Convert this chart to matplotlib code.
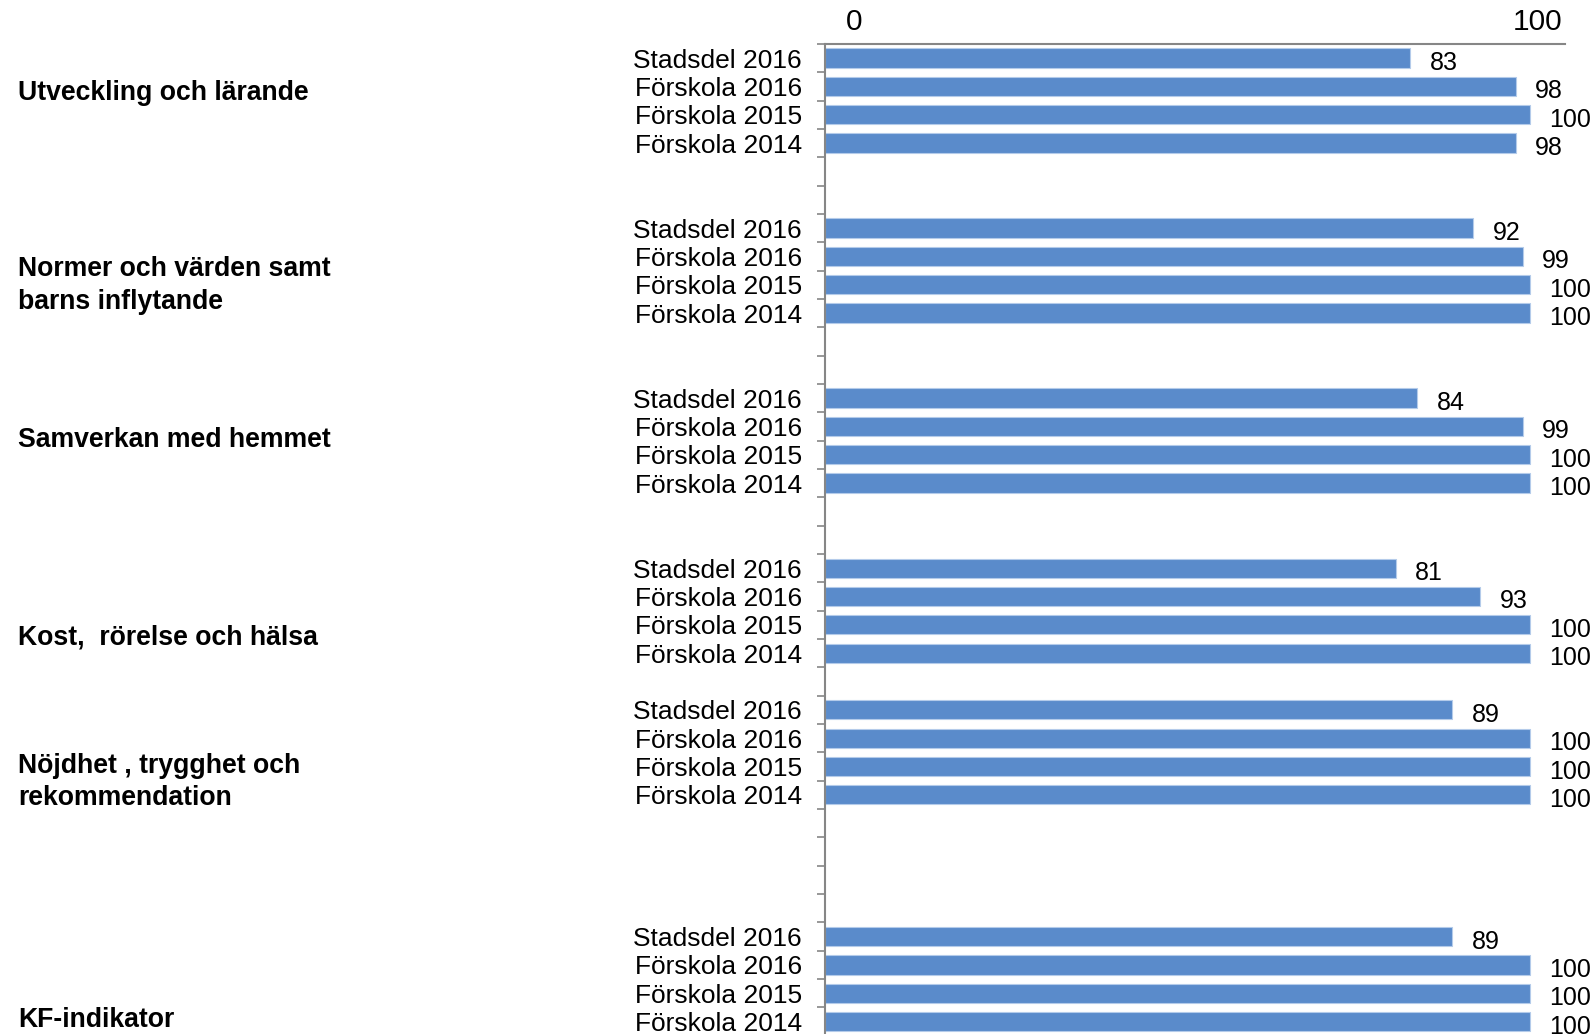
import numpy as np
import matplotlib
matplotlib.use("Agg")
import matplotlib.pyplot as plt
import matplotlib.transforms as mtransforms
from matplotlib.ticker import FixedLocator

plt.rcParams["font.family"] = ["Liberation Sans", "DejaVu Sans"]

# survey areas (left-hand group titles)
AREAS = [
    "Utveckling och lärande",
    "Normer och värden samt\nbarns inflytande",
    "Samverkan med hemmet",
    "Kost,  rörelse och hälsa",
    "Nöjdhet , trygghet och\nrekommendation",
    "KF-indikator",
]
SERIES = ["Stadsdel 2016", "Förskola 2016", "Förskola 2015", "Förskola 2014"]

stadsdel_2016 = [83, 92, 84, 81, 89, 89]
forskola_2016 = [98, 99, 99, 93, 100, 100]
forskola_2015 = [100, 100, 100, 100, 100, 100]
forskola_2014 = [98, 100, 100, 100, 100, 100]

# first category slot of every group (empty slots sit between groups)
GROUP_START = [0, 6, 12, 18, 23, 31]
N_SLOTS = 35
# vertical position of each group title, in slot units
TITLE_SLOT = [1.23, 8.03, 13.48, 20.43, 25.55, 33.94]

BAR_COLOR = "#5a8bcb"
EDGE_COLOR = "#b4cbea"
AXIS_GREY = "#868686"

values = [stadsdel_2016, forskola_2016, forskola_2015, forskola_2014]

fig = plt.figure(figsize=(15.96, 10.34), dpi=100)
ax = fig.add_axes([825 / 1596, -0.0017, 740 / 1596, 0.9593])

ypos, vals, labels = [], [], []
for g, start in enumerate(GROUP_START):
    for s, series in enumerate(values):
        ypos.append(start + s)
        vals.append(series[g])
        labels.append(SERIES[s])

ax.barh(ypos, vals, height=0.68, color=BAR_COLOR, edgecolor=EDGE_COLOR,
        linewidth=0.8, zorder=2)

for y, v in zip(ypos, vals):
    ax.annotate(f"{v}", xy=(v, y), xytext=(14.0, -3.6), textcoords="offset points",
                ha="left", va="center", fontsize=18, color="black")

ax.set_xlim(0, 105)
ax.set_ylim(N_SLOTS - 0.5, -0.5)

# category labels on the bar slots, tick marks on the slot boundaries
ax.set_yticks(ypos)
ax.set_yticklabels(labels, fontsize=19)
ax.yaxis.set_minor_locator(FixedLocator(np.arange(-0.5, N_SLOTS, 1.0)))
ax.tick_params(axis="y", which="major", length=0, pad=16.6)
ax.tick_params(axis="y", which="minor", length=5.8, width=1.2,
               color=AXIS_GREY, direction="out")

# value axis on top
ax.xaxis.tick_top()
ax.set_xticks([0, 100])
ax.set_xticklabels(["0", "100"], fontsize=21.5)
ax.tick_params(axis="x", length=0, pad=5.5)
shifts = [29, 8]
for lab, dx in zip(ax.get_xticklabels(), shifts):
    lab.set_transform(lab.get_transform() +
                      mtransforms.ScaledTranslation(dx / 100, 0, fig.dpi_scale_trans))

for side in ("right", "bottom"):
    ax.spines[side].set_visible(False)
for side in ("left", "top"):
    ax.spines[side].set_color(AXIS_GREY)
    ax.spines[side].set_linewidth(1.5)

# group titles at the far left
title_tf = mtransforms.blended_transform_factory(fig.transFigure, ax.transData)
for name, ys in zip(AREAS, TITLE_SLOT):
    fig.text(18 / 1596, ys, name, transform=title_tf, ha="left", va="center",
             fontsize=19.2, fontweight="bold", linespacing=1.32)

fig.savefig("out.png", dpi=100)
